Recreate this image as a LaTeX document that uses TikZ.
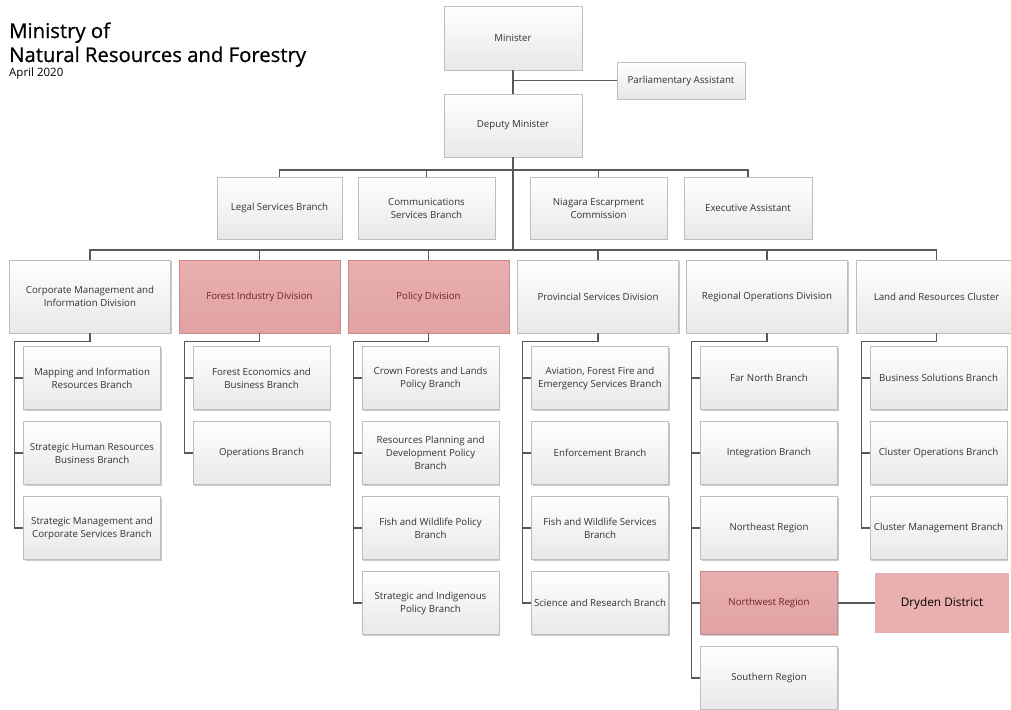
\documentclass[tikz,border=0pt]{standalone}
\usepackage{fontspec}
\setmainfont{Open Sans}
\newfontfamily\headfont{Open Sans}[FakeBold=0.7]
\usetikzlibrary{shadows,positioning,calc}
\definecolor{boxline}{HTML}{BDBDBD}
\definecolor{boxlow}{HTML}{E8E8E8}
\definecolor{pinkfill}{HTML}{EAAFAF}
\definecolor{pinklow}{HTML}{E0A2A2}
\definecolor{pinkline}{HTML}{C98A8A}
\definecolor{pinktext}{HTML}{6B2525}
\definecolor{wirecol}{HTML}{595959}
\tikzset{
  unit/.style={draw=boxline, top color=white, bottom color=boxlow, text=black!80,
    align=center, font=\fontsize{9.7}{13}\selectfont, inner xsep=1pt,
    drop shadow={shadow xshift=1.2pt, shadow yshift=-1.2pt, fill=black!45, opacity=.45}},
  branch/.style={unit, minimum width=137pt, minimum height=63pt},
  division/.style={unit, minimum width=161pt, minimum height=73pt},
  hilite/.style={draw=pinkline, top color=pinkfill, bottom color=pinklow, text=pinktext},
  wire/.style={draw=wirecol, line width=1.2pt},
  title/.style={anchor=base west, inner sep=0pt}
}
\begin{document}
\begin{tikzpicture}[x=1pt,y=-1pt]
\useasboundingbox (0,0) rectangle (1011,709);
% heading
\node[title, font=\headfont\fontsize{20.3}{24}\selectfont] (tA) at (9,38) {Ministry of};
\node[title, font=\headfont\fontsize{20.3}{24}\selectfont] (tB) at (9,62) {Natural Resources and Forestry};
\node[title, font=\fontsize{11.5}{13}\selectfont] (tC) at (9,76) {April 2020};
% top
\node[unit, minimum width=138pt, minimum height=64pt] (min) at (513,38) {Minister};
\node[unit, minimum width=128pt, minimum height=37pt] (pa) at (681,80.5) {Parliamentary Assistant};
\node[unit, minimum width=138pt, minimum height=63pt] (dep) at (513,125.5) {Deputy Minister};
\coordinate (bus1) at (513,170);
\coordinate (bus2) at (513,250);
% staff
\node[unit, minimum width=125pt, minimum height=62pt] (legal) at (279.5,208) {Legal Services Branch};
\node[unit, minimum width=137pt, minimum height=62pt] (comm) at (426.5,208) {Communications\\Services Branch};
\node[unit, minimum width=137pt, minimum height=62pt] (nia) at (598.5,208) {Niagara Escarpment\\Commission};
\node[unit, minimum width=128pt, minimum height=62pt] (exe) at (748,208) {Executive Assistant};
% divisions
\node[division] (cor) at (90,296.5) {Corporate Management and\\Information Division};
\node[division, hilite] (fid) at (259.5,296.5) {Forest Industry Division};
\node[division, hilite] (pol) at (428.5,296.5) {Policy Division};
\node[division] (psd) at (598,296.5) {Provincial Services Division};
\node[division] (rod) at (767,296.5) {Regional Operations Division};
\node[division] (lrc) at (936.5,296.5) {Land and Resources Cluster};
% branches
\node[branch] (cor1) at (92,378) {Mapping and Information\\Resources Branch};
\node[branch] (cor2) at (92,453) {Strategic Human Resources\\Business Branch};
\node[branch] (cor3) at (92,528) {Strategic Management and\\Corporate Services Branch};
\node[branch] (fid1) at (261.5,378) {Forest Economics and\\Business Branch};
\node[branch] (fid2) at (261.5,453) {Operations Branch};
\node[branch] (pol1) at (430.5,378) {Crown Forests and Lands\\Policy Branch};
\node[branch] (pol2) at (430.5,453) {Resources Planning and\\Development Policy\\Branch};
\node[branch] (pol3) at (430.5,528) {Fish and Wildlife Policy\\Branch};
\node[branch] (pol4) at (430.5,603) {Strategic and Indigenous\\Policy Branch};
\node[branch] (psd1) at (600,378) {Aviation, Forest Fire and\\Emergency Services Branch};
\node[branch] (psd2) at (600,453) {Enforcement Branch};
\node[branch] (psd3) at (600,528) {Fish and Wildlife Services\\Branch};
\node[branch] (psd4) at (600,603) {Science and Research Branch};
\node[branch] (rod1) at (769,378) {Far North Branch};
\node[branch] (rod2) at (769,453) {Integration Branch};
\node[branch] (rod3) at (769,528) {Northeast Region};
\node[branch, hilite] (rod4) at (769,603) {Northwest Region};
\node[branch] (rod5) at (769,678) {Southern Region};
\node[branch] (lrc1) at (938.5,378) {Business Solutions Branch};
\node[branch] (lrc2) at (938.5,453) {Cluster Operations Branch};
\node[branch] (lrc3) at (938.5,528) {Cluster Management Branch};
\node[fill=pinkfill, minimum width=134pt, minimum height=60pt, font=\fontsize{11.8}{14}\selectfont] (dry) at (942,603) {Dryden District};
% connectors
\draw[wire] (min) -- (dep);
\draw[wire] (pa.west) -- (pa.west -| min.south);
\draw[wire] (dep.south) -- (bus2);
\draw[wire] (legal.north) |- (bus1) -| (exe.north);
\draw[wire] (comm.north) -- (comm.north |- bus1);
\draw[wire] (nia.north) -- (nia.north |- bus1);
\draw[wire] (cor.north) |- (bus2) -| (lrc.north);
\draw[wire] (fid.north) -- (fid.north |- bus2);
\draw[wire] (pol.north) -- (pol.north |- bus2);
\draw[wire] (psd.north) -- (psd.north |- bus2);
\draw[wire] (rod.north) -- (rod.north |- bus2);
\draw[wire] (cor.south) -- ++(0,8) -| ([xshift=-8.5pt]cor3.west) -- (cor3.west);
\draw[wire] (fid.south) -- ++(0,8) -| ([xshift=-8.5pt]fid2.west) -- (fid2.west);
\draw[wire] (pol.south) -- ++(0,8) -| ([xshift=-8.5pt]pol4.west) -- (pol4.west);
\draw[wire] (psd.south) -- ++(0,8) -| ([xshift=-8.5pt]psd4.west) -- (psd4.west);
\draw[wire] (rod.south) -- ++(0,8) -| ([xshift=-8.5pt]rod5.west) -- (rod5.west);
\draw[wire] (lrc.south) -- ++(0,8) -| ([xshift=-8.5pt]lrc3.west) -- (lrc3.west);
\foreach \n in {cor1,cor2,fid1,pol1,pol2,pol3,psd1,psd2,psd3,rod1,rod2,rod3,rod4,lrc1,lrc2}
  \draw[wire] (\n.west) -- ++(-8.5,0);
\draw[wire] (rod4.east) -- (dry.west);
\end{tikzpicture}
\end{document}
